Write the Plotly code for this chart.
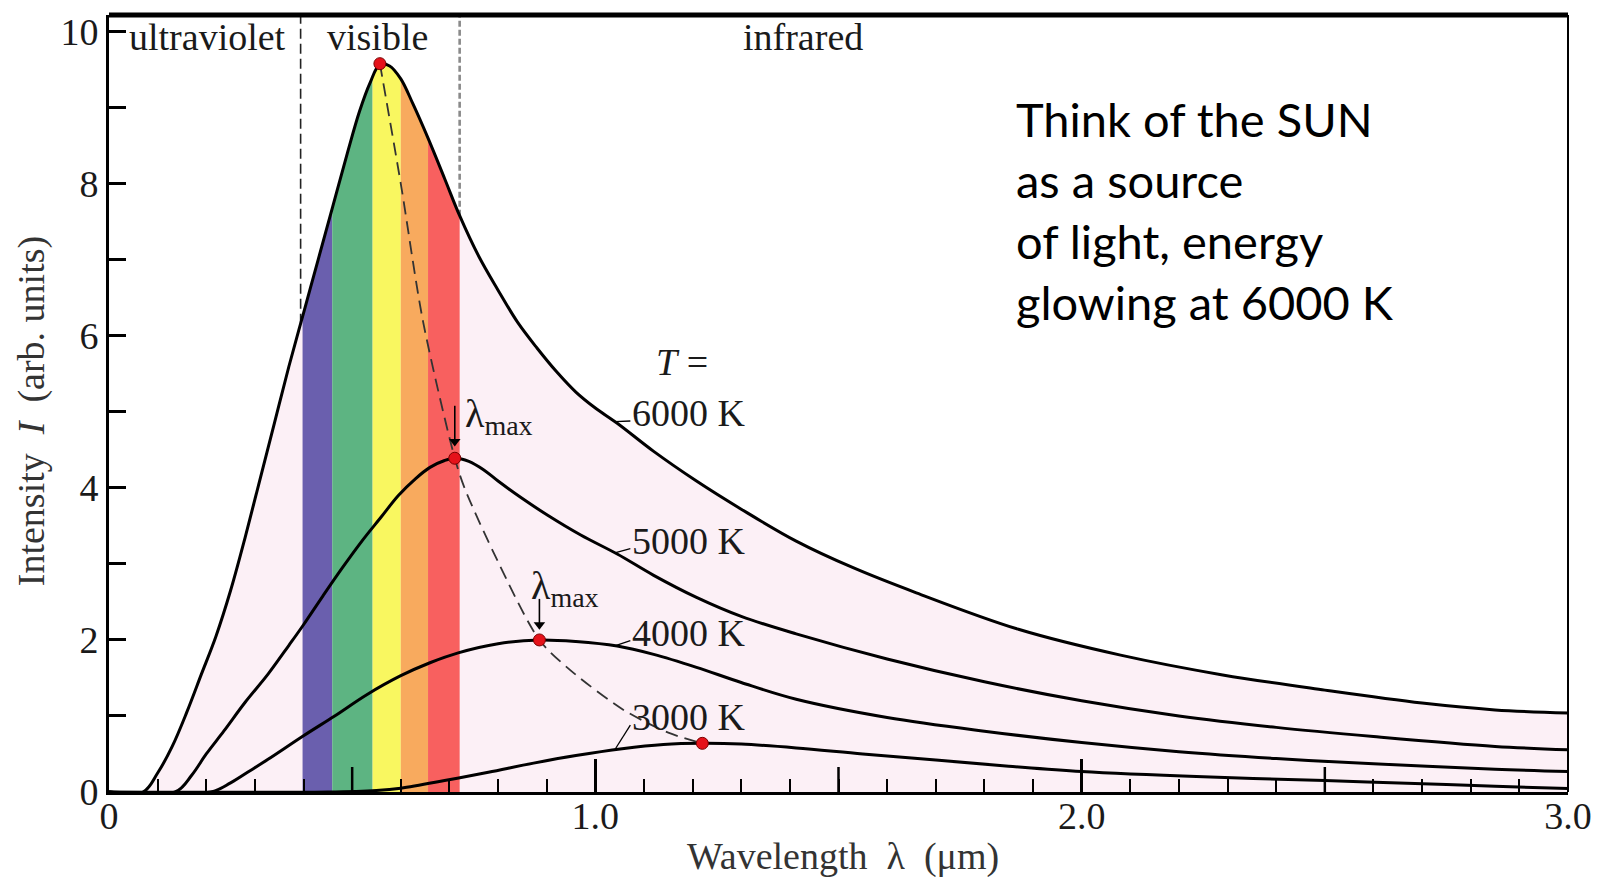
import numpy as np
import plotly.graph_objects as go

SERIF = "Liberation Serif, Times New Roman, serif"
SANS = "Lato, Open Sans, sans-serif"

# Spectral intensity readings (wavelength in um, intensity in arb. units)
wl_6000 = [0.00, 0.07, 0.10, 0.13, 0.16, 0.19, 0.22, 0.25, 0.28, 0.31, 0.34, 0.37,
           0.40, 0.43, 0.46, 0.49, 0.515, 0.537, 0.557, 0.577, 0.60, 0.625, 0.656,
           0.69, 0.721, 0.76, 0.80, 0.84, 0.88, 0.92, 0.96, 1.00, 1.045, 1.12, 1.208,
           1.30, 1.413, 1.53, 1.66, 1.87, 2.08, 2.29, 2.50, 2.70, 2.85, 3.00]
I_6000 = [0.0, 0.0, 0.25, 0.6, 1.05, 1.55, 2.05, 2.65, 3.35, 4.1, 4.85, 5.6,
          6.3, 7.0, 7.7, 8.4, 8.95, 9.33, 9.57, 9.55, 9.38, 9.05, 8.6,
          8.07, 7.58, 7.05, 6.6, 6.18, 5.84, 5.53, 5.26, 5.05, 4.85, 4.48, 4.09,
          3.72, 3.30, 2.95, 2.62, 2.14, 1.80, 1.54, 1.34, 1.17, 1.08, 1.04]

wl_5000 = [0.00, 0.136, 0.17, 0.20, 0.236, 0.28, 0.327, 0.37, 0.40, 0.44, 0.48, 0.52,
           0.56, 0.595, 0.63, 0.66, 0.69, 0.711, 0.74, 0.77, 0.80, 0.85, 0.902, 0.97,
           1.045, 1.12, 1.208, 1.30, 1.413, 1.60, 1.80, 2.00, 2.20, 2.40, 2.60, 2.85, 3.00]
I_5000 = [0.0, 0.0, 0.22, 0.5, 0.8, 1.18, 1.55, 1.93, 2.2, 2.58, 2.95, 3.3,
          3.62, 3.9, 4.12, 4.27, 4.36, 4.39, 4.35, 4.24, 4.09, 3.86, 3.64, 3.38,
          3.13, 2.85, 2.56, 2.31, 2.08, 1.75, 1.45, 1.20, 1.00, 0.85, 0.73, 0.60, 0.555]

wl_4000 = [0.00, 0.209, 0.25, 0.29, 0.327, 0.40, 0.464, 0.53, 0.60, 0.66, 0.718, 0.80,
           0.885, 0.96, 1.045, 1.12, 1.208, 1.30, 1.413, 1.60, 1.80, 2.00, 2.20, 2.40,
           2.60, 2.85, 3.00]
I_4000 = [0.0, 0.0, 0.12, 0.28, 0.43, 0.74, 1.0, 1.28, 1.53, 1.70, 1.83, 1.95,
          2.0, 1.98, 1.92, 1.81, 1.64, 1.44, 1.22, 0.98, 0.80, 0.65, 0.53, 0.44,
          0.37, 0.30, 0.27]

wl_3000 = [0.00, 0.45, 0.55, 0.60, 0.69, 0.78, 0.873, 0.96, 1.055, 1.14, 1.22, 1.30,
           1.413, 1.55, 1.70, 1.85, 2.00, 2.25, 2.50, 2.75, 2.85, 3.00]
I_3000 = [0.0, 0.0, 0.02, 0.05, 0.15, 0.26, 0.38, 0.48, 0.57, 0.625, 0.64, 0.63,
          0.58, 0.50, 0.42, 0.34, 0.27, 0.20, 0.15, 0.10, 0.075, 0.045]

# Peak positions (lambda_max) and the dashed locus joining them
peak_wl = [0.557, 0.711, 0.885, 1.22]
peak_I = [9.58, 4.39, 2.00, 0.64]
locus_wl = [0.557, 0.60, 0.646, 0.711, 0.731, 0.799, 0.885, 0.949, 1.058, 1.15, 1.22]
locus_I = [9.58, 8.0, 6.18, 4.39, 4.0, 3.04, 2.0, 1.6, 1.08, 0.78, 0.64]

# lambda_max pointers: which peaks, arrow extent above the dot, label anchor
pointer_peaks = [1, 2]
pointer_top = [0.69, 0.54]
pointer_tip = [0.14, 0.12]
pointer_label_wl = [0.728, 0.864]
pointer_label_I = [4.95, 2.68]

# Visible spectrum colour bands
band_edges = [0.398, 0.459, 0.542, 0.600, 0.656, 0.721]
band_colors = ["#6a5fae", "#5db482", "#f9f760", "#f8aa5e", "#f8605f"]
uv_edge = 0.394
vis_edge = 0.721

temp_labels = ["6000 K", "5000 K", "4000 K", "3000 K"]
temp_label_I = [4.98, 3.30, 2.09, 0.98]
region_labels = ["ultraviolet", "visible", "infrared"]
region_wl = [0.203, 0.552, 1.427]
sun_lines = ["Think of the SUN", "as a source", "of light, energy", "glowing at 6000 K"]
sun_line_I = [8.85, 8.05, 7.25, 6.45]

x_ticks = [0, 1, 2, 3]
x_ticktext = ["0", "1.0", "2.0", "3.0"]
y_ticks = [0, 2, 4, 6, 8, 10]
half_ticks = [0.5, 1.5, 2.5]

X_MAX = 3.0
Y_MAX = 10.22
PINK = "#fcf0f6"

curves = [(wl_6000, I_6000), (wl_5000, I_5000), (wl_4000, I_4000), (wl_3000, I_3000)]
line_shape = dict(shape="spline", smoothing=1.0)

fig = go.Figure()

# white area above the 6000 K curve (the pink background remains below it)
fig.add_trace(go.Scatter(x=wl_6000, y=I_6000, mode="lines",
                         line=dict(color="black", width=0, **line_shape),
                         hoverinfo="skip", showlegend=False))
fig.add_trace(go.Scatter(x=[0, X_MAX], y=[Y_MAX + 1, Y_MAX + 1], mode="lines",
                         line=dict(width=0), fill="tonexty", fillcolor="white",
                         hoverinfo="skip", showlegend=False))

# region boundaries above the curve
fig.add_trace(go.Scatter(x=[uv_edge, uv_edge],
                         y=[float(np.interp(uv_edge, wl_6000, I_6000)), Y_MAX],
                         mode="lines", line=dict(color="#222", width=1.6, dash="10px,5px"),
                         hoverinfo="skip", showlegend=False))
fig.add_trace(go.Scatter(x=[vis_edge, vis_edge],
                         y=[float(np.interp(vis_edge, wl_6000, I_6000)), Y_MAX],
                         mode="lines", line=dict(color="#8a8a8a", width=2.6, dash="6px,3px"),
                         hoverinfo="skip", showlegend=False))

# blackbody curves
for wl, inten in curves:
    fig.add_trace(go.Scatter(x=wl, y=inten, mode="lines",
                             line=dict(color="black", width=3, **line_shape),
                             hoverinfo="skip", showlegend=False))

# Wien locus
fig.add_trace(go.Scatter(x=locus_wl, y=locus_I, mode="lines",
                         line=dict(color="#333", width=1.8, dash="13px,7px",
                                   shape="spline", smoothing=0.8),
                         hoverinfo="skip", showlegend=False))

# lambda_max arrows: shaft plus a triangular head just above the dot
for i, top, tip in zip(pointer_peaks, pointer_top, pointer_tip):
    px, py = peak_wl[i], peak_I[i]
    fig.add_trace(go.Scatter(x=[px, px], y=[py + top, py + tip + 0.1], mode="lines",
                             line=dict(color="black", width=1.6),
                             hoverinfo="skip", showlegend=False))
    fig.add_trace(go.Scatter(x=[px], y=[py + tip + 0.08], mode="markers",
                             marker=dict(symbol="triangle-down", size=10, color="black",
                                         line=dict(width=0)),
                             hoverinfo="skip", showlegend=False))

fig.add_trace(go.Scatter(x=peak_wl, y=peak_I, mode="markers",
                         marker=dict(size=12, color="#e5121a",
                                     line=dict(color="#7a0000", width=1)),
                         hoverinfo="skip", showlegend=False))

shapes = []
for i, col in enumerate(band_colors):
    shapes.append(dict(type="rect", xref="x", yref="y", x0=band_edges[i], x1=band_edges[i + 1],
                       y0=0, y1=Y_MAX, fillcolor=col, line=dict(width=0), layer="below"))
# frame: heavy top edge, thin right edge
shapes.append(dict(type="line", xref="paper", yref="paper", x0=0, x1=1, y0=1, y1=1,
                   line=dict(color="black", width=5), layer="above"))
shapes.append(dict(type="line", xref="paper", yref="paper", x0=1, x1=1, y0=0, y1=1,
                   line=dict(color="black", width=2), layer="above"))
# mid-length ticks at the half units
for xv in half_ticks:
    shapes.append(dict(type="line", xref="x", yref="y", ysizemode="pixel", yanchor=0,
                       x0=xv, x1=xv, y0=0, y1=25, line=dict(color="black", width=2.5)))
# leader lines from each curve to its temperature label
for (wl, inten), ly in zip(curves, temp_label_I):
    y_start = float(np.interp(1.04, wl, inten))
    shapes.append(dict(type="line", xref="x", yref="y", x0=1.04, x1=1.072,
                       y0=y_start, y1=ly - 0.1, line=dict(color="black", width=1.3)))

ann = []
serif = dict(family=SERIF, size=38, color="#1a1a1a")
for text, xv in zip(region_labels, region_wl):
    ann.append(dict(x=xv, y=9.93, xref="x", yref="y", text=text, showarrow=False,
                    font=serif, xanchor="center", yanchor="middle"))
ann.append(dict(x=1.178, y=5.65, xref="x", yref="y", text="<i>T</i> =", showarrow=False,
                font=serif, xanchor="center", yanchor="middle"))
for text, ly in zip(temp_labels, temp_label_I):
    ann.append(dict(x=1.072, y=ly, xref="x", yref="y", text=text, showarrow=False,
                    font=serif, xanchor="left", yanchor="middle"))
for lx, ly in zip(pointer_label_wl, pointer_label_I):
    ann.append(dict(x=lx, y=ly, xref="x", yref="y", text="λ<sub>max</sub>",
                    showarrow=False, font=dict(family=SERIF, size=40, color="#1a1a1a"),
                    xanchor="left", yanchor="middle"))
for text, ly in zip(sun_lines, sun_line_I):
    ann.append(dict(x=1.861, y=ly, xref="x", yref="y", text=text, showarrow=False,
                    font=dict(family=SANS, size=47, color="black"),
                    xanchor="left", yanchor="middle"))
# axis titles
ann.append(dict(x=1.509, y=-0.083, xref="x", yref="paper",
                text="Wavelength\u00a0\u00a0λ\u00a0\u00a0(μm)", showarrow=False,
                font=dict(family=SERIF, size=38, color="#333"),
                xanchor="center", yanchor="middle"))
ann.append(dict(x=-0.0535, y=0.49, xref="paper", yref="paper",
                text="Intensity\u00a0\u00a0<i>I</i>\u00a0\u00a0(arb. units)", showarrow=False,
                textangle=-90, font=dict(family=SERIF, size=38, color="#333"),
                xanchor="center", yanchor="middle"))

tickfont = dict(family=SERIF, size=38, color="#1a1a1a")
fig.update_layout(
    width=1603, height=877,
    margin=dict(l=109, r=27, t=11, b=85, pad=0),
    paper_bgcolor="white", plot_bgcolor=PINK,
    showlegend=False,
    shapes=shapes, annotations=ann,
    xaxis=dict(range=[0, X_MAX], tickvals=x_ticks, ticktext=x_ticktext,
               ticks="inside", ticklen=33, tickwidth=2.5, tickcolor="black",
               ticklabelstandoff=-12,
               showgrid=False, zeroline=False, showline=True, linecolor="black",
               linewidth=3, tickfont=tickfont,
               minor=dict(ticks="inside", dtick=0.1, tick0=0, ticklen=13,
                          tickwidth=2, tickcolor="black", showgrid=False)),
    yaxis=dict(range=[0, Y_MAX], tickvals=y_ticks,
               ticks="inside", ticklen=17, tickwidth=2.5, tickcolor="black",
               showgrid=False, zeroline=False, showline=True, linecolor="black",
               linewidth=3, tickfont=tickfont,
               minor=dict(ticks="inside", dtick=1, tick0=0, ticklen=17,
                          tickwidth=2.5, tickcolor="black", showgrid=False)),
)

fig.write_html("out.html", post_script="document.body.style.margin='0';")
